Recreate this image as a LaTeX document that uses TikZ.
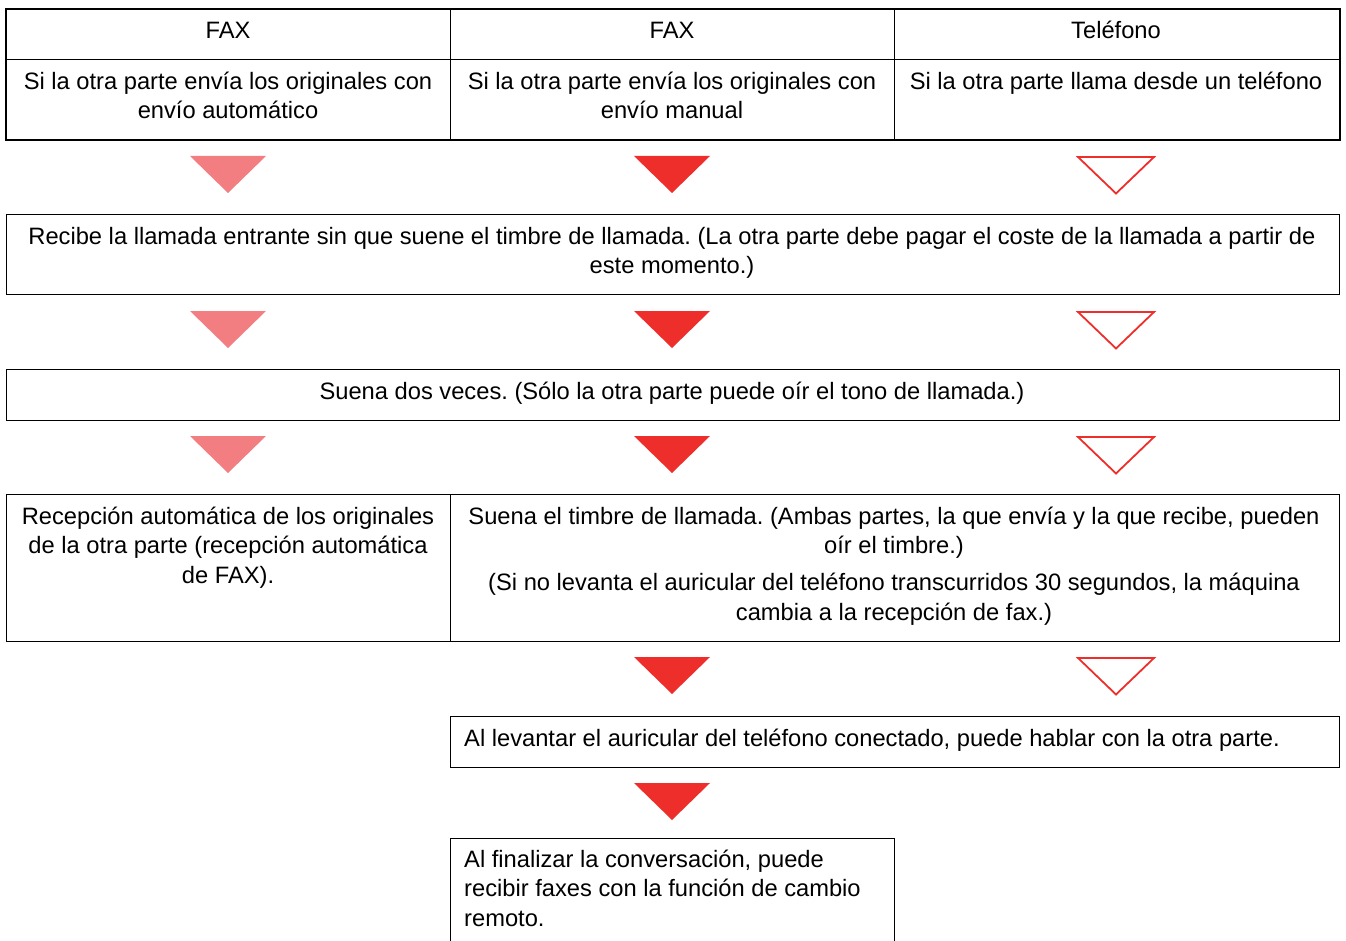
\documentclass[tikz,border=0pt]{standalone}
\usepackage{fontspec}
\setmainfont{Liberation Sans}
\definecolor{pinkT}{RGB}{243,126,130}
\definecolor{redT}{RGB}{238,46,42}
\newcommand\tp{\rule{0pt}{25pt}}
\frenchspacing
\begin{document}
\begin{tikzpicture}[x=1pt,y=1pt,
  txt/.style={inner sep=0pt, font=\fontsize{23.7pt}{29.5pt}\selectfont\frenchspacing, align=center, anchor=north},
  ltxt/.style={txt, align=left, anchor=north west},
  cell/.style={draw, line width=1pt, inner sep=0pt, anchor=north west},
  bx/.style={draw, line width=1.4pt, inner sep=0pt, anchor=north west},
  pinktri/.pic={\fill[pinkT] (-38,0) -- (38,0) -- (0,-37) -- cycle;},
  redtri/.pic={\fill[redT] (-38,0) -- (38,0) -- (0,-37) -- cycle;},
  opentri/.pic={\draw[redT, line width=1.8pt, line join=miter] (-38,-1) -- (38,-1) -- (0,-37.5) -- cycle;}
]
\useasboundingbox (0,0) rectangle (1346,-941);

% header table
\node[cell, minimum width=444, minimum height=50] (h1) at (6,-9) {};
\node[cell, minimum width=444, minimum height=50] (h2) at (450,-9) {};
\node[cell, minimum width=445, minimum height=50] (h3) at (894,-9) {};
\node[cell, minimum width=444, minimum height=80] (d1) at (6,-59) {};
\node[cell, minimum width=444, minimum height=80] (d2) at (450,-59) {};
\node[cell, minimum width=445, minimum height=80] (d3) at (894,-59) {};
\draw[line width=2.5pt] (h1.north west) rectangle (d3.south east);

\node[txt, anchor=base] (th1) at (228,-39) {FAX};
\node[txt, anchor=base] (th2) at (672,-39) {FAX};
\node[txt, anchor=base] (th3) at (1116,-39) {Teléfono};
\node[txt] (td1) at (228,-64) {\tp Si la otra parte envía los originales con\\envío automático};
\node[txt] (td2) at (672,-64) {\tp Si la otra parte envía los originales con\\envío manual};
\node[txt] (td3) at (1116,-64) {\tp Si la otra parte llama desde un teléfono};

% row 1 triangles
\pic at (228,-156) {pinktri};
\pic at (672,-156) {redtri};
\pic at (1116,-156) {opentri};

% box 2
\node[bx, minimum width=1333, minimum height=80] (b2) at (6,-214) {};
\node[txt] (t2) at (672,-219) {\tp Recibe la llamada entrante sin que suene el timbre de llamada. (La otra parte debe pagar el coste de la llamada a partir de\\este momento.)};

% row 2 triangles
\pic at (228,-311) {pinktri};
\pic at (672,-311) {redtri};
\pic at (1116,-311) {opentri};

% box 3
\node[bx, minimum width=1333, minimum height=51] (b3) at (6,-369) {};
\node[txt, anchor=base] (t3) at (672,-399) {Suena dos veces. (Sólo la otra parte puede oír el tono de llamada.)};

% row 3 triangles
\pic at (228,-436) {pinktri};
\pic at (672,-436) {redtri};
\pic at (1116,-436) {opentri};

% box 4
\node[bx, minimum width=444, minimum height=147] (b4l) at (6,-494) {};
\node[bx, minimum width=889, minimum height=147] (b4r) at (450,-494) {};
\node[txt] (t4l) at (228,-499) {\tp Recepción automática de los originales\\de la otra parte (recepción automática\\de FAX).};
\node[txt] (t4r) at (894,-499) {\tp Suena el timbre de llamada. (Ambas partes, la que envía y la que recibe, pueden\\oír el timbre.)\\[7.5pt](Si no levanta el auricular del teléfono transcurridos 30 segundos, la máquina\\cambia a la recepción de fax.)};

% row 4 triangles
\pic at (672,-657) {redtri};
\pic at (1116,-657) {opentri};

% box 5
\node[bx, minimum width=889, minimum height=51] (b5) at (450,-716) {};
\node[txt, anchor=base west] (t5) at (464,-746) {Al levantar el auricular del teléfono conectado, puede hablar con la otra parte.};

% row 5 triangle
\pic at (672,-783) {redtri};

% box 6
\node[bx, minimum width=444, minimum height=115] (b6) at (450,-838) {};
\node[ltxt] (t6) at (464,-842) {\tp Al finalizar la conversación, puede\\recibir faxes con la función de cambio\\remoto.};
\end{tikzpicture}
\end{document}
